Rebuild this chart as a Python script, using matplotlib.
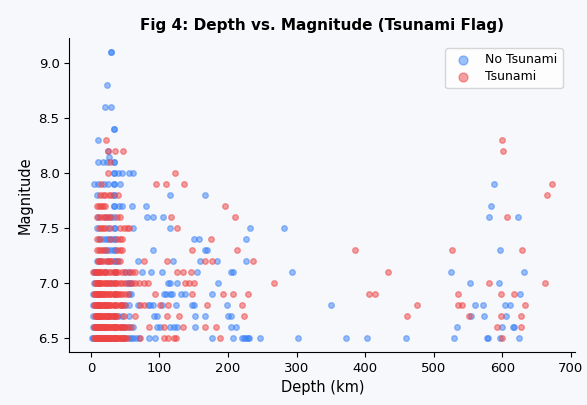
import matplotlib
matplotlib.use("Agg")
import matplotlib.pyplot as plt

# Magnitude rows (step 0.1) and depths (km)
mags = [6.5, 6.6, 6.7, 6.8, 6.9, 7.0, 7.1, 7.2, 7.3, 7.4, 7.5, 7.6, 7.7, 7.8,
        7.9, 8.0, 8.1, 8.15, 8.2, 8.3, 8.4, 8.6, 8.8, 9.1]

no_tsunami_depths = [
    [2, 3, 10, 10, 15, 20, 25, 33, 35, 45, 50, 55, 58, 62, 66, 70, 85, 94, 177,
     208, 221, 224, 226, 229, 230, 246, 302, 372, 403, 460, 530, 578, 579, 597, 624],
    [3, 6, 10, 20, 35, 45, 50, 55, 62, 96, 101, 116, 121, 126, 152, 204, 211, 534,
     600, 616, 617],
    [3, 10, 25, 32, 40, 45, 55, 92, 96, 152, 166, 200, 204, 555, 574, 605],
    [3, 10, 20, 45, 50, 55, 68, 83, 86, 90, 104, 124, 147, 150, 198, 350, 560, 572,
     604, 612],
    [3, 10, 35, 55, 58, 106, 110, 116, 119, 131, 137, 176, 626],
    [4, 10, 30, 52, 55, 58, 112, 116, 125, 185, 553, 595],
    [4, 8, 20, 35, 50, 55, 75, 87, 104, 155, 204, 208, 293, 526, 632],
    [9, 15, 25, 33, 35, 40, 68, 120, 159, 184, 226],
    [20, 25, 30, 33, 35, 91, 166, 170, 597],
    [12, 18, 22, 25, 30, 33, 35, 150, 157, 226],
    [9, 25, 33, 35, 62, 116, 232, 281],
    [11, 22, 30, 33, 82, 91, 105, 580, 623],
    [33, 34, 41, 45, 60, 81, 584],
    [9, 33, 34, 116, 167],
    [4, 11, 19, 25, 33, 34, 43, 588],
    [33, 34, 40, 46, 56, 62],
    [11, 18, 24, 33, 34],
    [27],
    [25],
    [11],
    [33, 34],
    [20, 30],
    [24],
    [30, 30],
]

tsunami_depths = [
    [5, 6, 7, 8, 9, 10, 10, 10, 10, 10, 11, 12, 13, 14, 15, 16, 17, 18, 19, 20,
     21, 22, 23, 24, 25, 26, 27, 28, 29, 30, 31, 33, 33, 35, 35, 35, 37, 39, 40,
     42, 43, 45, 47, 49, 50, 52, 71, 107, 113, 121, 124, 188, 600],
    [5, 6, 8, 9, 10, 10, 10, 10, 11, 12, 13, 14, 15, 16, 17, 18, 19, 20, 21, 22,
     24, 25, 27, 28, 30, 31, 33, 33, 35, 35, 35, 38, 40, 42, 44, 46, 48, 50, 54,
     58, 85, 107, 135, 166, 182, 593, 627],
    [6, 7, 8, 10, 10, 10, 11, 12, 13, 14, 15, 16, 18, 19, 20, 22, 23, 25, 26, 28,
     30, 33, 33, 35, 35, 38, 48, 65, 111, 129, 223, 461, 551, 598, 627],
    [5, 6, 8, 10, 10, 10, 11, 12, 13, 14, 15, 16, 18, 19, 20, 22, 23, 25, 26, 28,
     30, 33, 35, 35, 38, 42, 44, 46, 50, 72, 77, 101, 113, 170, 221, 476, 536,
     541, 633],
    [4, 6, 7, 9, 10, 10, 10, 12, 13, 14, 16, 17, 18, 20, 22, 23, 26, 28, 30, 33,
     35, 35, 38, 40, 42, 46, 50, 54, 93, 147, 192, 207, 229, 405, 415, 536, 598,
     617],
    [6, 8, 10, 10, 10, 12, 14, 15, 18, 20, 22, 24, 26, 28, 32, 35, 35, 38, 42, 46,
     50, 55, 60, 65, 70, 77, 83, 137, 143, 150, 267, 580, 663],
    [3, 6, 8, 10, 10, 12, 14, 15, 18, 20, 22, 26, 30, 33, 35, 36, 40, 45, 50, 55,
     60, 65, 126, 135, 146, 434],
    [10, 12, 14, 18, 22, 25, 28, 30, 38, 43, 78, 111, 167, 177, 236],
    [9, 12, 15, 18, 22, 38, 43, 46, 148, 213, 385, 527, 629],
    [9, 14, 28, 38, 42, 46, 175],
    [12, 15, 18, 20, 28, 43, 48, 52, 56, 126],
    [9, 13, 17, 20, 25, 28, 38, 42, 117, 210, 607],
    [9, 12, 15, 18, 21, 195],
    [14, 18, 21, 26, 30, 40, 666],
    [15, 95, 110, 136, 673],
    [25, 122],
    [28],
    [],
    [25, 35, 47, 601],
    [22, 600],
    [],
    [],
    [],
    [],
]

labels = ["No Tsunami", "Tsunami"]
colors = ["#3b82f6", "#ef4444"]

def flatten(rows):
    xs, ys = [], []
    for m, ds in zip(mags, rows):
        for d in ds:
            xs.append(d)
            ys.append(m)
    return xs, ys

bg = "#f7f8fc"
fig = plt.figure(figsize=(5.87, 4.05), dpi=100, facecolor=bg)
ax = fig.add_axes([0.118, 0.131, 0.862, 0.775], facecolor=bg)

for rows, lab, col in zip([no_tsunami_depths, tsunami_depths], labels, colors):
    x, y = flatten(rows)
    ax.scatter(x, y, s=16, c=col, alpha=0.5, label=lab)

ax.set_title("Fig 4: Depth vs. Magnitude (Tsunami Flag)", fontsize=11,
             fontweight="bold")
ax.set_xlabel("Depth (km)", fontsize=10.5)
ax.set_ylabel("Magnitude", fontsize=10.5)
ax.set_xticks(range(0, 701, 100))
ax.set_yticks([6.5, 7.0, 7.5, 8.0, 8.5, 9.0])
ax.tick_params(labelsize=9.5)
for s in ["top", "right"]:
    ax.spines[s].set_visible(False)
ax.legend(loc="upper right", fontsize=9, facecolor="white", framealpha=0.8,
          markerscale=1.6, labelspacing=0.35, borderaxespad=0.8,
          bbox_to_anchor=(0.995, 1.0))

fig.savefig("out.png", dpi=100, facecolor=bg)
